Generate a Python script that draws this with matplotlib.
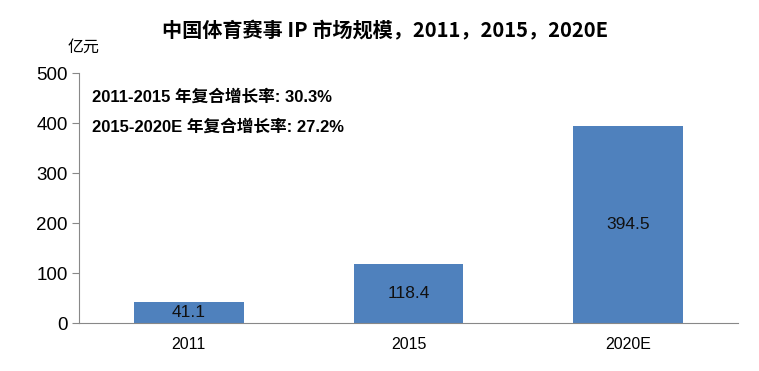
import matplotlib.pyplot as plt
import numpy as np

plt.rcParams['font.family'] = ['Liberation Sans', 'Noto Sans CJK SC', 'DejaVu Sans']

years = ['2011', '2015', '2020E']
values = [41.1, 118.4, 394.5]
cagr_notes = ['2011-2015 年复合增长率: 30.3%', '2015-2020E 年复合增长率: 27.2%']

fig = plt.figure(figsize=(7.59, 3.71), dpi=100)
ax = fig.add_axes([79 / 759, 48 / 371, 659 / 759, 250 / 371])

x = np.arange(len(years))
bars = ax.bar(x, values, width=0.5, color='#4F81BD')
ax.bar_label(bars, labels=[str(v) for v in values], label_type='center', fontsize=12.5, color='#111111')

ax.set_xlim(-0.5, 2.5)
ax.set_ylim(0, 500)
ax.set_yticks([0, 100, 200, 300, 400, 500])
ax.set_xticks(x)
ax.set_xticklabels(years)
ax.tick_params(axis='y', labelsize=13.5, length=5, color='#888888', pad=3)
ax.tick_params(axis='x', labelsize=11.5, length=0, pad=10)

for s in ['top', 'right']:
    ax.spines[s].set_visible(False)
for s in ['left', 'bottom']:
    ax.spines[s].set_color('#888888')

fig.text(0.507, 0.918, '中国体育赛事 IP 市场规模，2011，2015，2020E', ha='center', va='center',
         fontsize=14.5, fontweight='bold', family=['Noto Sans CJK SC', 'DejaVu Sans'])
fig.text(68 / 759, 1 - 47 / 371, '亿元', ha='left', va='center', fontsize=11.5,
         family=['Noto Sans CJK SC'])

ax.text(-0.44, 452, cagr_notes[0], ha='left', va='center', fontsize=12, fontweight='bold')
ax.text(-0.44, 392, cagr_notes[1], ha='left', va='center', fontsize=12, fontweight='bold')

fig.savefig('out.png', dpi=100)
